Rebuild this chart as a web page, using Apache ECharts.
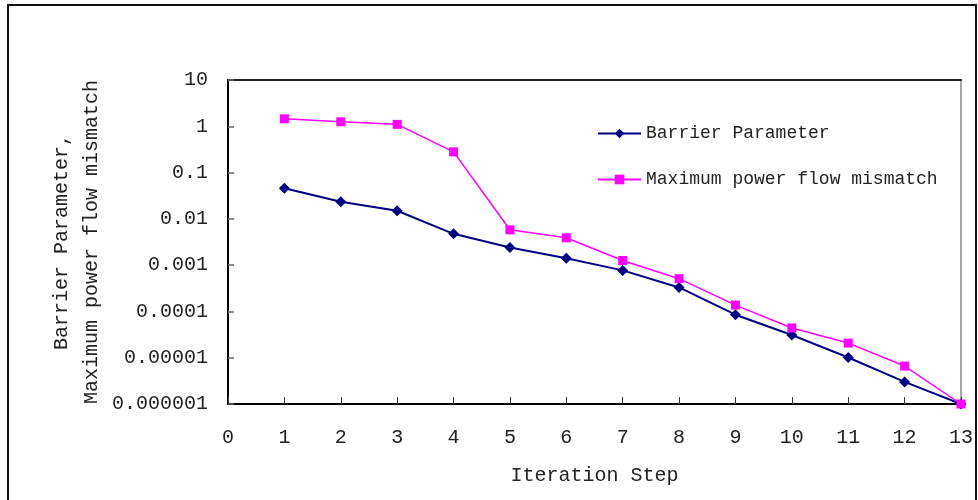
<!DOCTYPE html>
<html>
<head>
<meta charset="utf-8">
<script src="https://cdn.jsdelivr.net/npm/echarts@6/dist/echarts.min.js"></script>
<style>
html,body{margin:0;padding:0;background:#fff;}
#chart{width:978px;height:500px;}
</style>
</head>
<body>
<div id="chart"></div>
<script>
const steps = [1,2,3,4,5,6,7,8,9,10,11,12,13];
const barrierParameter = [0.046,0.0235,0.015,0.00475,0.0024,0.00141,0.00077,0.00033,0.000085,0.000031,0.0000101,0.000003,0.000001];
const maxMismatch = [1.45,1.25,1.1,0.28,0.0058,0.0039,0.00126,0.00051,0.000137,0.000044,0.0000207,0.0000066,0.000001];
const yTickLabels = ['0.000001','0.00001','0.0001','0.001','0.01','0.1','1','10'];
const seriesNames = ['Barrier Parameter','Maximum power flow mismatch'];
const xTitle = 'Iteration Step';
const yTitle = 'Barrier Parameter,\nMaximum power flow mismatch';

const FONT = 'Liberation Mono';
const chart = echarts.init(document.getElementById('chart'), null, {renderer:'canvas'});
const pair = (ys) => steps.map((x,i)=>[x, ys[i]]);

chart.setOption({
  animation:false,
  backgroundColor:'#fff',
  textStyle:{fontFamily:FONT},
  graphic:[{
    type:'rect', silent:true, z:-1,
    shape:{x:8,y:5,width:968,height:540},
    style:{fill:'none',stroke:'#111',lineWidth:2}
  },{
    type:'text', silent:true,
    x:77, y:242, rotation:Math.PI/2,
    style:{text:yTitle, font:'20px "Liberation Mono"', fill:'#222',
      align:'center', verticalAlign:'middle', lineHeight:30}
  }],
  grid:{left:228,top:80,right:17,bottom:96,show:true,borderColor:'#888',borderWidth:1.5,containLabel:false},
  legend:{
    orient:'vertical', left:592, top:119,
    itemWidth:43, itemHeight:12, itemGap:27,
    textStyle:{fontFamily:FONT,fontSize:18,color:'#222',lineHeight:19},
    data:seriesNames
  },
  xAxis:[{
    type:'value', min:0, max:13, interval:1,
    name:xTitle, nameLocation:'middle', nameGap:62,
    nameTextStyle:{fontFamily:FONT,fontSize:20,color:'#222'},
    axisLine:{show:true,onZero:false,lineStyle:{color:'#000',width:2}},
    axisTick:{show:true,inside:true,length:7,lineStyle:{color:'#333',width:1}},
    axisLabel:{margin:24,fontFamily:FONT,fontSize:20,color:'#222'},
    splitLine:{show:false}
  },{
    type:'value', min:0, max:13, position:'top',
    axisLine:{show:true,lineStyle:{color:'#222',width:2}},
    axisTick:{show:false}, axisLabel:{show:false}, splitLine:{show:false}
  }],
  yAxis:{
    type:'log', logBase:10, min:1e-6, max:10,
    axisLine:{show:true,lineStyle:{color:'#000',width:2}},
    axisTick:{show:true,inside:true,length:6,lineStyle:{color:'#666',width:1.5}},
    axisLabel:{margin:20,fontFamily:FONT,fontSize:20,color:'#222',
      formatter:(v)=>{const e=Math.round(Math.log10(v)); return yTickLabels[e+6];}},
    splitLine:{show:false}, minorTick:{show:false}
  },
  series:[{
    name:seriesNames[0], type:'line', data:pair(barrierParameter),
    symbol:'diamond', symbolSize:11,
    itemStyle:{color:'#000080'}, lineStyle:{color:'#000080',width:2}, z:2
  },{
    name:seriesNames[1], type:'line', data:pair(maxMismatch),
    symbol:'rect', symbolSize:9,
    itemStyle:{color:'#FF00FF'}, lineStyle:{color:'#FF00FF',width:1.5}, z:3
  }]
});
</script>
</body>
</html>
